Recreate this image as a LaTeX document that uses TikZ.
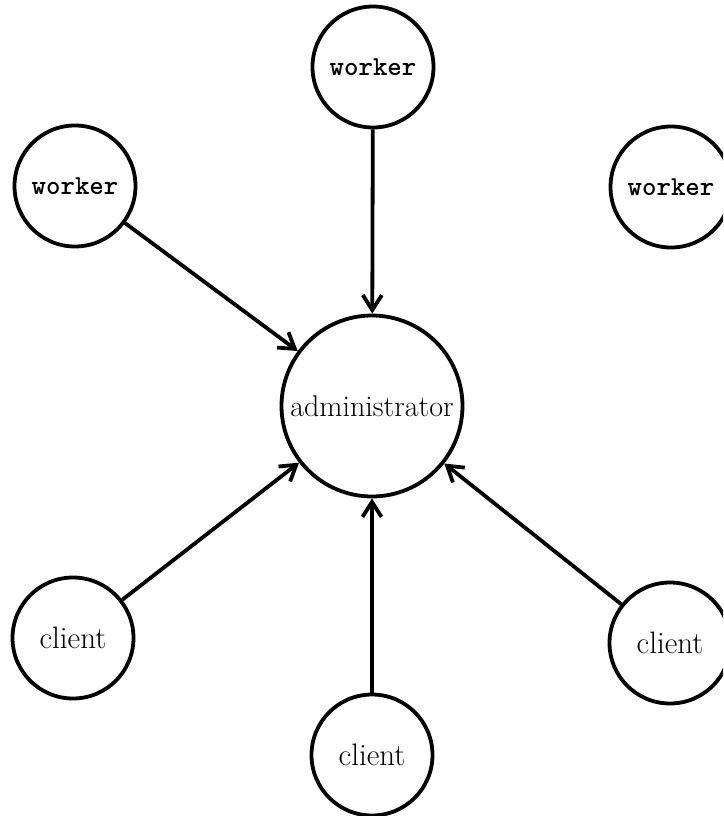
\documentclass[tikz,border=0pt]{standalone}
\usepackage{fontspec}
\usetikzlibrary{arrows.meta}
\begin{document}
\begin{tikzpicture}[x=1pt,y=-1pt,
  agent/.style={circle,draw,line width=3.8pt,inner sep=0pt,minimum size=121pt},
  hub/.style={circle,draw,line width=3.8pt,inner sep=0pt,minimum size=181pt},
  feed/.style={line width=3.8pt,-{Straight Barb[length=15pt,width=19pt]}},
  wlabel/.style={font=\ttfamily\bfseries\fontsize{27.5}{31}\selectfont},
  clabel/.style={font=\fontsize{31}{34}\selectfont},
  alabel/.style={font=\fontsize{30}{33}\selectfont},
]
\useasboundingbox (0,0) rectangle (723,816);
\clip (0,0) rectangle (723,816);

% central administrator
\node[hub,alabel] (adm) at (372,406) {administrator};

% workers
\node[agent,wlabel] (wtop)   at (373,67)  {worker};
\node[agent,wlabel] (wleft)  at (75,186)  {worker};
\node[agent,wlabel] (wright) at (671,187) {worker};

% clients
\node[agent,clabel] (cleft)  at (73,638)  {client};
\node[agent,clabel] (cbot)   at (372,755) {client};
\node[agent,clabel] (cright) at (670,643) {client};

% connections into the administrator
\draw[feed] (wtop)  -- (adm);
\draw[feed] (wleft) -- (adm);
\draw[feed] (cleft) -- (adm);
\draw[feed] (cbot)  -- (adm);
\draw[feed] (cright) -- (adm);
\end{tikzpicture}
\end{document}
